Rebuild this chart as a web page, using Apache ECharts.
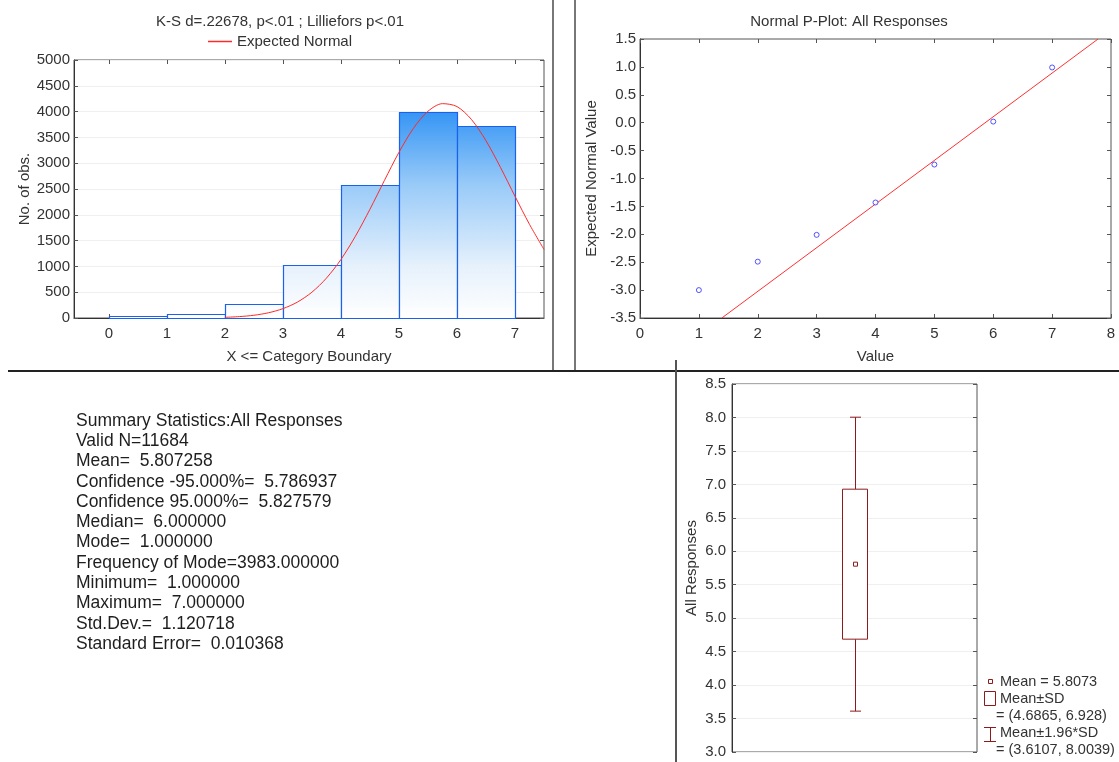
<!DOCTYPE html>
<html>
<head>
<meta charset="utf-8">
<script src="https://cdn.jsdelivr.net/npm/echarts@6/dist/echarts.min.js"></script>
<style>
html,body{margin:0;padding:0;background:#fff;}
#chart{width:1119px;height:762px;}
</style>
</head>
<body>
<div id="chart"></div>
<script>
// ---------- data ----------
const binUpper = [1, 2, 3, 4, 5, 6, 7];
const binCounts = [35, 75, 275, 1020, 2580, 3983, 3716];
const histXTicks = [0, 1, 2, 3, 4, 5, 6, 7];
const normalX = [2, 2.25, 2.5, 2.75, 3, 3.25, 3.5, 3.75, 4, 4.25, 4.5, 4.75, 5, 5.25, 5.5, 5.75, 6, 6.25, 6.5, 6.75, 7, 7.25, 7.5];
const normalY = [13, 27, 53, 101, 181, 308, 500, 772, 1133, 1585, 2107, 2666, 3210, 3676, 4006, 4154, 4098, 3847, 3436, 2919, 2360, 1815, 1328];

const ppX = [1, 2, 3, 4, 5, 6, 7];
const ppY = [-3.0, -2.49, -2.01, -1.43, -0.75, 0.02, 0.99];
const fitX = [1.39, 7.78];
const fitY = [-3.5, 1.5];

const boxNames = ['ciLo', 'sdLo', 'mean', 'sdHi', 'ciHi'];
const boxValues = [3.6107, 4.6865, 5.8073, 6.928, 8.0039];

const statsLines = [
  'Summary Statistics:All Responses',
  'Valid N=11684',
  'Mean=  5.807258',
  'Confidence -95.000%=  5.786937',
  'Confidence 95.000%=  5.827579',
  'Median=  6.000000',
  'Mode=  1.000000',
  'Frequency of Mode=3983.000000',
  'Minimum=  1.000000',
  'Maximum=  7.000000',
  'Std.Dev.=  1.120718',
  'Standard Error=  0.010368'
];
const boxLegend = [
  'Mean = 5.8073',
  'Mean\u00b1SD',
  '= (4.6865, 6.928)',
  'Mean\u00b11.96*SD',
  '= (3.6107, 8.0039)'
];

// ---------- chart ----------
const FONT = '"Liberation Sans", Arial, sans-serif';
const TXT = '#333';
const BOX = '#8e1b1b';
const chart = echarts.init(document.getElementById('chart'));

const histBins = binUpper.map((u, i) => [u - 1, u, binCounts[i]]);
const normalData = normalX.map((x, i) => [x, normalY[i]]);
const ppData = ppX.map((x, i) => [x, ppY[i]]);
const fitData = fitX.map((x, i) => [x, fitY[i]]);

function label(extra) {
  return Object.assign({fontFamily: FONT, fontSize: 15, color: TXT}, extra || {});
}
const innerTick = {show: true, inside: true, length: 4, lineStyle: {color: '#555'}};
const splitFaint = {show: true, lineStyle: {color: '#efefef', width: 1}};
const mainLine = {show: true, onZero: false, lineStyle: {color: '#333'}};

function mirrorX(grid, min, max, interval, custom) {
  const a = {type: 'value', gridIndex: grid, position: 'top', min: min, max: max,
    axisLine: {show: false, onZero: false}, axisLabel: {show: false}, splitLine: {show: false},
    axisTick: Object.assign({}, innerTick)};
  if (interval) a.interval = interval;
  if (custom) { a.axisTick.customValues = custom; a.axisLabel.customValues = custom; }
  return a;
}
function mirrorY(grid, min, max, interval) {
  return {type: 'value', gridIndex: grid, position: 'right', min: min, max: max, interval: interval,
    axisLine: {show: false, onZero: false}, axisLabel: {show: false}, splitLine: {show: false},
    axisTick: Object.assign({}, innerTick)};
}

const graphics = [];
// divider lines
graphics.push({type: 'line', shape: {x1: 553, y1: 0, x2: 553, y2: 371}, style: {stroke: '#777', lineWidth: 2}});
graphics.push({type: 'line', shape: {x1: 575, y1: 0, x2: 575, y2: 371}, style: {stroke: '#777', lineWidth: 2}});
graphics.push({type: 'line', shape: {x1: 8, y1: 371, x2: 1119, y2: 371}, style: {stroke: '#222', lineWidth: 2}});
graphics.push({type: 'line', shape: {x1: 676, y1: 360, x2: 676, y2: 762}, style: {stroke: '#555', lineWidth: 2}});
// titles
graphics.push({type: 'text', x: 280, y: 22, style: {text: 'K-S d=.22678, p<.01 ; Lilliefors p<.01', font: '15px ' + FONT, fill: TXT, align: 'center', verticalAlign: 'middle'}});
graphics.push({type: 'text', x: 849, y: 22, style: {text: 'Normal P-Plot: All Responses', font: '15px ' + FONT, fill: TXT, align: 'center', verticalAlign: 'middle'}});
// stats block
statsLines.forEach((t, i) => {
  graphics.push({type: 'text', x: 76, y: 421 + i * 20.27, style: {text: t, font: '17.5px ' + FONT, fill: '#1e1e1e', align: 'left', verticalAlign: 'middle'}});
});
// box legend
graphics.push({type: 'rect', shape: {x: 988.5, y: 679.5, width: 4, height: 4}, style: {fill: 'none', stroke: BOX, lineWidth: 1}});
graphics.push({type: 'rect', shape: {x: 984.5, y: 691.5, width: 11, height: 14}, style: {fill: 'none', stroke: BOX, lineWidth: 1}});
graphics.push({type: 'polyline', shape: {points: [[984, 727.5], [996, 727.5]]}, style: {stroke: BOX, lineWidth: 1}});
graphics.push({type: 'polyline', shape: {points: [[990.5, 727.5], [990.5, 741.5]]}, style: {stroke: BOX, lineWidth: 1}});
graphics.push({type: 'polyline', shape: {points: [[984, 741.5], [996, 741.5]]}, style: {stroke: BOX, lineWidth: 1}});
const legX = [1000, 1000, 996, 1000, 996];
const legY = [682, 699, 716, 733, 750];
boxLegend.forEach((t, i) => {
  graphics.push({type: 'text', x: legX[i], y: legY[i], style: {text: t, font: '14.5px ' + FONT, fill: TXT, align: 'left', verticalAlign: 'middle'}});
});

const option = {
  backgroundColor: '#fff',
  animation: false,
  legend: {
    data: ['Expected Normal'], left: 208, top: 34, icon: 'rect', itemWidth: 24, itemHeight: 1.5,
    textStyle: label(), itemGap: 5, padding: 0
  },
  grid: [
    {left: 74, top: 60, width: 470, height: 258, show: true, borderColor: '#555', borderWidth: 1, backgroundColor: '#fff'},
    {left: 640, top: 39, width: 471, height: 279, show: true, borderColor: '#555', borderWidth: 1, backgroundColor: '#fff'},
    {left: 732, top: 384, width: 245, height: 368, show: true, borderColor: '#555', borderWidth: 1, backgroundColor: '#fff'}
  ],
  xAxis: [
    {type: 'value', gridIndex: 0, min: -0.6, max: 7.5,
      axisLine: mainLine,
      axisTick: {show: true, inside: true, length: 4, lineStyle: {color: '#555'}, customValues: histXTicks},
      axisLabel: label({margin: 8, customValues: histXTicks}), splitLine: {show: false},
      name: 'X <= Category Boundary', nameLocation: 'middle', nameGap: 31, nameTextStyle: label()},
    mirrorX(0, -0.6, 7.5, null, histXTicks),
    {type: 'value', gridIndex: 1, min: 0, max: 8, interval: 1,
      axisLine: mainLine, axisTick: Object.assign({}, innerTick),
      axisLabel: label({margin: 8}), splitLine: {show: false},
      name: 'Value', nameLocation: 'middle', nameGap: 31, nameTextStyle: label()},
    mirrorX(1, 0, 8, 1, null),
    {type: 'value', gridIndex: 2, min: 0, max: 1, show: false, axisLine: {onZero: false}}
  ],
  yAxis: [
    {type: 'value', gridIndex: 0, min: 0, max: 5000, interval: 500,
      axisLine: mainLine, axisTick: Object.assign({}, innerTick),
      axisLabel: label({margin: 4, formatter: v => String(v)}), splitLine: splitFaint,
      name: 'No. of obs.', nameLocation: 'middle', nameGap: 42, nameTextStyle: label()},
    mirrorY(0, 0, 5000, 500),
    {type: 'value', gridIndex: 1, min: -3.5, max: 1.5, interval: 0.5,
      axisLine: mainLine, axisTick: Object.assign({}, innerTick),
      axisLabel: label({margin: 4, formatter: v => v.toFixed(1)}), splitLine: {show: false},
      name: 'Expected Normal Value', nameLocation: 'middle', nameGap: 41, nameTextStyle: label()},
    mirrorY(1, -3.5, 1.5, 0.5),
    {type: 'value', gridIndex: 2, min: 3, max: 8.5, interval: 0.5,
      axisLine: mainLine, axisTick: Object.assign({}, innerTick),
      axisLabel: label({margin: 6, formatter: v => v.toFixed(1)}), splitLine: splitFaint,
      name: 'All Responses', nameLocation: 'middle', nameGap: 33, nameTextStyle: label()},
    mirrorY(2, 3, 8.5, 0.5)
  ],
  series: [
    {
      type: 'custom', name: 'Histogram', xAxisIndex: 0, yAxisIndex: 0, data: histBins, z: 2,
      renderItem: function (params, api) {
        const p0 = api.coord([api.value(0), api.value(2)]);
        const p1 = api.coord([api.value(1), 0]);
        const yTop = api.coord([0, 4000])[1];
        const yBot = api.coord([0, 0])[1];
        const grad = new echarts.graphic.LinearGradient(0, yTop, 0, yBot, [
          {offset: 0, color: '#3595f5'},
          {offset: 0.35, color: '#98caf8'},
          {offset: 0.75, color: '#e6f1fc'},
          {offset: 1, color: '#ffffff'}
        ], true);
        return {
          type: 'rect',
          shape: {x: Math.round(p0[0]) + 0.5, y: Math.round(p0[1]) + 0.5, width: Math.round(p1[0] - p0[0]), height: Math.round(p1[1] - p0[1])},
          style: {fill: grad, stroke: '#1a62ee', lineWidth: 1.2}
        };
      }
    },
    {
      type: 'line', name: 'Expected Normal', xAxisIndex: 0, yAxisIndex: 0, data: normalData,
      smooth: 0.3, showSymbol: false, symbol: 'none', z: 3,
      lineStyle: {color: '#ff2a2a', width: 1}, itemStyle: {color: '#ff2a2a'}
    },
    {
      type: 'scatter', name: 'Observed', xAxisIndex: 2, yAxisIndex: 2, data: ppData, z: 4,
      symbol: 'circle', symbolSize: 5,
      itemStyle: {color: '#fff', borderColor: '#2a2aff', borderWidth: 1}
    },
    {
      type: 'line', name: 'Fit', xAxisIndex: 2, yAxisIndex: 2, data: fitData, z: 3,
      showSymbol: false, symbol: 'none', lineStyle: {color: '#ff3030', width: 1}
    },
    {
      type: 'custom', name: 'Box', xAxisIndex: 4, yAxisIndex: 4,
      data: [[0.5].concat(boxValues)], z: 3,
      renderItem: function (params, api) {
        const cx = Math.round(api.coord([api.value(0), 0])[0]) + 0.5;
        const y = k => api.coord([0.5, api.value(k + 1)])[1];
        const yCiLo = y(0), ySdLo = y(1), yMean = y(2), ySdHi = y(3), yCiHi = y(4);
        const st = {stroke: BOX, lineWidth: 1, fill: 'none'};
        return {
          type: 'group',
          children: [
            {type: 'line', shape: {x1: cx, y1: yCiHi, x2: cx, y2: ySdHi}, style: st},
            {type: 'line', shape: {x1: cx, y1: ySdLo, x2: cx, y2: yCiLo}, style: st},
            {type: 'line', shape: {x1: cx - 5.5, y1: yCiHi, x2: cx + 5.5, y2: yCiHi}, style: st},
            {type: 'line', shape: {x1: cx - 5.5, y1: yCiLo, x2: cx + 5.5, y2: yCiLo}, style: st},
            {type: 'rect', shape: {x: cx - 13, y: ySdHi, width: 25, height: ySdLo - ySdHi}, style: {stroke: BOX, lineWidth: 1, fill: '#fff'}},
            {type: 'rect', shape: {x: cx - 2, y: yMean - 2, width: 4, height: 4}, style: st}
          ]
        };
      }
    }
  ],
  graphic: graphics
};
chart.setOption(option);
</script>
</body>
</html>
